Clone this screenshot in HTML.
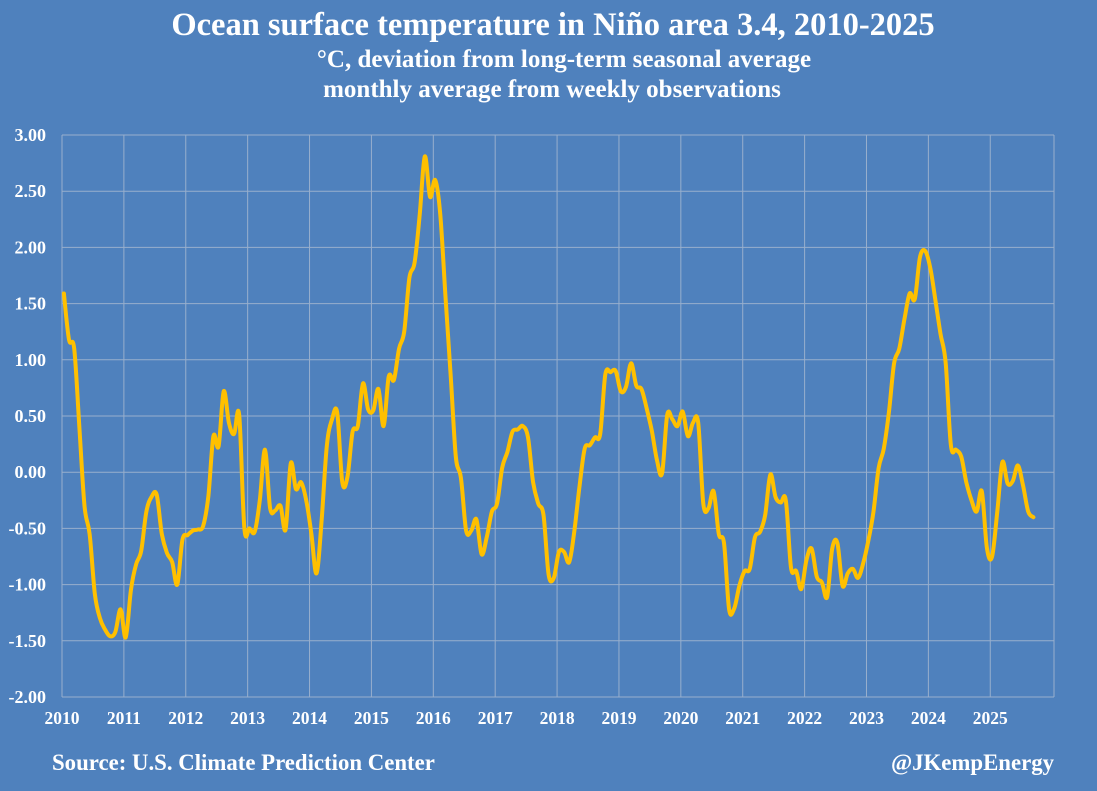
<!DOCTYPE html>
<html><head><meta charset="utf-8">
<style>
html,body{margin:0;padding:0;background:#4F81BD;}
body{width:1097px;height:786px;overflow:hidden;font-family:"Liberation Serif",serif;color:#fff;}
svg text{font-family:"Liberation Serif",serif;fill:#fff;font-weight:bold;}
</style></head>
<body>
<svg id="chart" width="1097" height="786" viewBox="0 0 1097 786" xmlns="http://www.w3.org/2000/svg">
<rect width="1097" height="786" fill="#4F81BD"/>
<text x="553" y="35" text-anchor="middle" font-size="32.5">Ocean surface temperature in Niño area 3.4, 2010-2025</text>
<text x="564" y="67" text-anchor="middle" font-size="25">°C, deviation from long-term seasonal average</text>
<text x="552" y="97" text-anchor="middle" font-size="25">monthly average from weekly observations</text>
<g id="grid"></g>
<g id="yticks"></g>
<g id="xticks"></g>
<path id="line" fill="none" stroke="#FFC000" stroke-width="4" stroke-linejoin="round" stroke-linecap="round"/>
<text x="52" y="770" font-size="22.8">Source: U.S. Climate Prediction Center</text>
<text x="1054" y="770" text-anchor="end" font-size="22.8">@JKempEnergy</text>
</svg>
<script>
const yTicks = [3.0, 2.5, 2.0, 1.5, 1.0, 0.5, 0.0, -0.5, -1.0, -1.5, -2.0];
const yTickLabels = ["3.00","2.50","2.00","1.50","1.00","0.50","0.00","-0.50","-1.00","-1.50","-2.00"];
const xYears = [2010,2011,2012,2013,2014,2015,2016,2017,2018,2019,2020,2021,2022,2023,2024,2025];
const startYear = 2010.03;
const anomalies = [
1.59,1.18,1.10,0.41,-0.30,-0.55,-1.08,-1.30,-1.40,-1.46,-1.42,-1.22,
-1.47,-1.05,-0.82,-0.70,-0.35,-0.22,-0.20,-0.55,-0.72,-0.80,-1.00,-0.60,
-0.56,-0.52,-0.51,-0.48,-0.22,0.32,0.23,0.72,0.44,0.34,0.51,-0.50,
-0.50,-0.53,-0.25,0.20,-0.32,-0.34,-0.30,-0.51,0.08,-0.15,-0.09,-0.25,
-0.55,-0.90,-0.42,0.24,0.47,0.53,-0.09,-0.04,0.36,0.41,0.79,0.56,
0.55,0.74,0.41,0.85,0.82,1.10,1.25,1.73,1.86,2.29,2.81,2.45,
2.60,2.29,1.56,0.87,0.14,-0.05,-0.52,-0.52,-0.42,-0.73,-0.58,-0.35,
-0.28,0.04,0.18,0.36,0.38,0.41,0.31,-0.09,-0.28,-0.38,-0.91,-0.94,
-0.71,-0.71,-0.80,-0.52,-0.12,0.21,0.24,0.31,0.34,0.87,0.89,0.90,
0.72,0.76,0.97,0.77,0.74,0.57,0.37,0.11,-0.01,0.51,0.47,0.41,
0.54,0.32,0.44,0.44,-0.28,-0.32,-0.17,-0.55,-0.63,-1.22,-1.21,-1.01,
-0.88,-0.86,-0.58,-0.53,-0.38,-0.02,-0.22,-0.27,-0.25,-0.85,-0.88,-1.04,
-0.78,-0.68,-0.93,-0.98,-1.11,-0.68,-0.63,-1.01,-0.90,-0.86,-0.94,-0.81,
-0.61,-0.35,0.04,0.21,0.54,0.97,1.10,1.36,1.59,1.54,1.91,1.97,
1.82,1.53,1.23,0.97,0.24,0.20,0.14,-0.09,-0.25,-0.35,-0.17,-0.68,
-0.75,-0.35,0.09,-0.10,-0.08,0.06,-0.12,-0.35,-0.40
];

const L=62,R=1054,T=135,B=697;
const yMin=-2,yMax=3,xMin=2010,xMax=2026.03;
function yScale(v){return B-(v-yMin)/(yMax-yMin)*(B-T);}
function xScale(t){return L+(t-xMin)/(xMax-xMin)*(R-L);}
const NS="http://www.w3.org/2000/svg";
const grid=document.getElementById('grid'),yg=document.getElementById('yticks'),xg=document.getElementById('xticks');

yTicks.forEach((v,i)=>{
  const y=yScale(v);
  const ln=document.createElementNS(NS,'line');
  ln.setAttribute('x1',L);ln.setAttribute('x2',R);ln.setAttribute('y1',y);ln.setAttribute('y2',y);
  ln.setAttribute('stroke','#98AFCD');ln.setAttribute('stroke-width','1');
  
  
  grid.appendChild(ln);
  const t=document.createElementNS(NS,'text');
  t.setAttribute('x',46);t.setAttribute('y',y+6);t.setAttribute('text-anchor','end');t.setAttribute('font-size','18');
  t.textContent=yTickLabels[i];
  
  
  yg.appendChild(t);
});
xYears.forEach(yr=>{
  const x=xScale(yr);
  const ln=document.createElementNS(NS,'line');
  ln.setAttribute('x1',x);ln.setAttribute('x2',x);ln.setAttribute('y1',T);ln.setAttribute('y2',B);
  ln.setAttribute('stroke','#98AFCD');ln.setAttribute('stroke-width','1');
  
  
  grid.appendChild(ln);
  const t=document.createElementNS(NS,'text');
  t.setAttribute('x',x);t.setAttribute('y',724);t.setAttribute('text-anchor','middle');t.setAttribute('font-size','17.5');
  t.textContent=String(yr);
  
  
  xg.appendChild(t);
});
const rx=document.createElementNS(NS,'line');
rx.setAttribute('x1',R);rx.setAttribute('x2',R);rx.setAttribute('y1',T);rx.setAttribute('y2',B);
rx.setAttribute('stroke','#98AFCD');


grid.appendChild(rx);

const pts=anomalies.map((v,i)=>[xScale(startYear+i/12),yScale(v)]);
let d='M'+pts[0][0].toFixed(1)+','+pts[0][1].toFixed(1);
for(let i=0;i<pts.length-1;i++){
  const p0=pts[Math.max(0,i-1)],p1=pts[i],p2=pts[i+1],p3=pts[Math.min(pts.length-1,i+2)];
  const k=1/6;
  const c1=[p1[0]+(p2[0]-p0[0])*k,p1[1]+(p2[1]-p0[1])*k];
  const c2=[p2[0]-(p3[0]-p1[0])*k,p2[1]-(p3[1]-p1[1])*k];
  d+=' C'+c1[0].toFixed(1)+','+c1[1].toFixed(1)+' '+c2[0].toFixed(1)+','+c2[1].toFixed(1)+' '+p2[0].toFixed(1)+','+p2[1].toFixed(1);
}
document.getElementById('line').setAttribute('d',d);
</script>
</body></html>
